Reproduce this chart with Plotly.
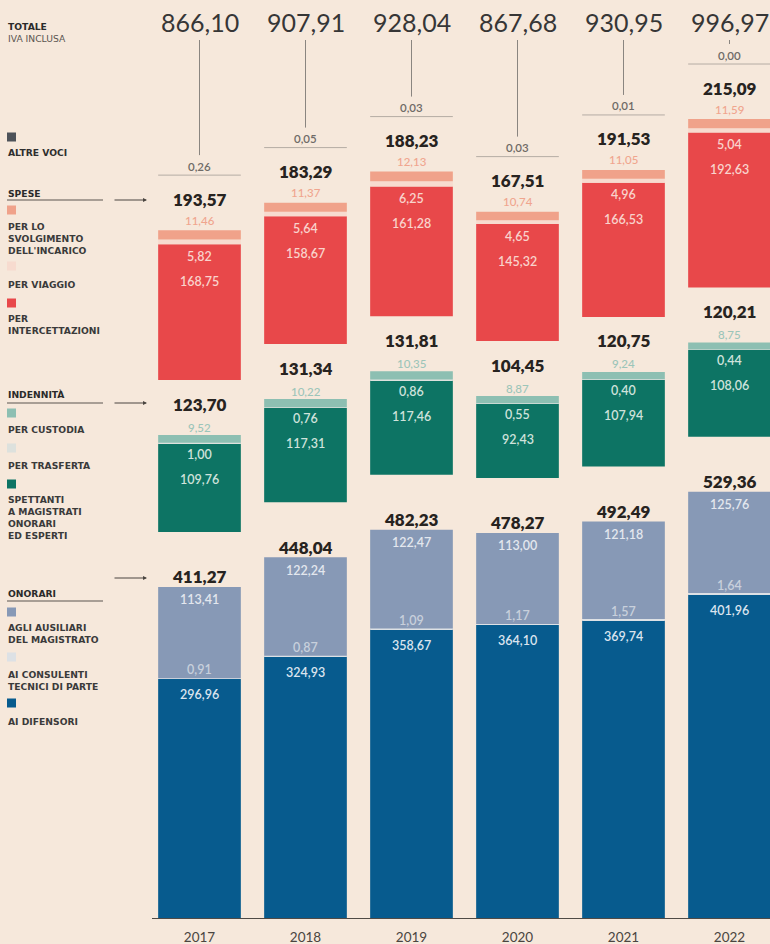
import plotly.graph_objects as go

# ---------------- data (milioni di euro) ----------------
years = ["2017", "2018", "2019", "2020", "2021", "2022"]
totale = [866.10, 907.91, 928.04, 867.68, 930.95, 996.97]
altre_voci = [0.26, 0.05, 0.03, 0.03, 0.01, 0.00]

spese_tot = [193.57, 183.29, 188.23, 167.51, 191.53, 215.09]
spese_svolg = [11.46, 11.37, 12.13, 10.74, 11.05, 11.59]
spese_viaggio = [5.82, 5.64, 6.25, 4.65, 4.96, 5.04]
spese_interc = [168.75, 158.67, 161.28, 145.32, 166.53, 192.63]

ind_tot = [123.70, 131.34, 131.81, 104.45, 120.75, 120.21]
ind_custodia = [9.52, 10.22, 10.35, 8.87, 9.24, 8.75]
ind_trasferta = [1.00, 0.76, 0.86, 0.55, 0.40, 0.44]
ind_spettanti = [109.76, 117.31, 117.46, 92.43, 107.94, 108.06]

on_tot = [411.27, 448.04, 482.23, 478.27, 492.49, 529.36]
on_ausiliari = [113.41, 122.24, 122.47, 113.00, 121.18, 125.76]
on_consulenti = [0.91, 0.87, 1.09, 1.17, 1.57, 1.64]
on_difensori = [296.96, 324.93, 358.67, 364.10, 369.74, 401.96]

# ---------------- geometry / style ----------------
W, H = 770, 944
PLOT_BOTTOM = 918           # px of the axis line
SCALE = 0.805               # px per unit
GAP = 55 / SCALE            # gap between groups, in data units
BARW = 0.78
X0_PX = 152
SPACING = 106.0
x_first = -(199.5 - X0_PX) / SPACING
x_last = x_first + (W - X0_PX) / SPACING
Y_MAX = PLOT_BOTTOM / SCALE

BG = "#f6e8db"
C_DIF, C_CONS, C_AUS = "#075b8e", "#dde1e5", "#8799b6"
C_SPET, C_TRAS, C_CUST = "#0d7464", "#dde1dd", "#8dbfb2"
C_INT, C_VIA, C_SVO = "#e8484a", "#f7dbcf", "#f0a28a"
C_ALT = "#4d5259"
NUM_FONT = "Lato"
LEG_FONT = "DejaVu Sans"

xs = list(range(len(years)))
fmt = lambda v: f"{v:.2f}".replace(".", ",")

# bases
on_top = [d + c + a for d, c, a in zip(on_difensori, on_consulenti, on_ausiliari)]
ind_base = [t + GAP for t in on_top]
ind_top = [b + s + t + c for b, s, t, c in zip(ind_base, ind_spettanti, ind_trasferta, ind_custodia)]
sp_base = [t + GAP for t in ind_top]
sp_top = [b + i + v + s for b, i, v, s in zip(sp_base, spese_interc, spese_viaggio, spese_svolg)]
alt_y = [t + GAP for t in sp_top]

fig = go.Figure()

def add_seg(vals, base, color, name):
    fig.add_trace(go.Bar(x=xs, y=vals, base=base, width=BARW, name=name,
                         marker=dict(color=color, line=dict(width=0)),
                         hoverinfo="skip", showlegend=False))

# onorari
add_seg(on_difensori, [0] * 6, C_DIF, "Ai difensori")
add_seg(on_consulenti, on_difensori, C_CONS, "Ai consulenti")
b3 = [a + b for a, b in zip(on_difensori, on_consulenti)]
add_seg(on_ausiliari, b3, C_AUS, "Agli ausiliari")
# indennità
add_seg(ind_spettanti, ind_base, C_SPET, "Spettanti")
ib2 = [a + b for a, b in zip(ind_base, ind_spettanti)]
add_seg(ind_trasferta, ib2, C_TRAS, "Per trasferta")
ib3 = [a + b for a, b in zip(ib2, ind_trasferta)]
add_seg(ind_custodia, ib3, C_CUST, "Per custodia")
# spese
add_seg(spese_interc, sp_base, C_INT, "Per intercettazioni")
sb2 = [a + b for a, b in zip(sp_base, spese_interc)]
add_seg(spese_viaggio, sb2, C_VIA, "Per viaggio")
sb3 = [a + b for a, b in zip(sb2, spese_viaggio)]
add_seg(spese_svolg, sb3, C_SVO, "Per lo svolgimento")

# altre voci: thin horizontal line + connector
lx, ly, cx, cy = [], [], [], []
conn_top = (PLOT_BOTTOM - 40) / SCALE
for i, (ay, av) in enumerate(zip(alt_y, altre_voci)):
    lx += [i - BARW / 2, i + BARW / 2, None]
    ly += [ay + av, ay + av, None]
    cx += [i, i, None]
    cy += [conn_top, ay + av + 20 / SCALE, None]
fig.add_trace(go.Scatter(x=lx, y=ly, mode="lines", line=dict(color="#b5aca4", width=1),
                         hoverinfo="skip", showlegend=False))
fig.add_trace(go.Scatter(x=cx, y=cy, mode="lines", line=dict(color="#8a8580", width=1),
                         hoverinfo="skip", showlegend=False))

ann = []

def lab(x, y, text, shift, color, size=12, weight=600, yref="y", family=NUM_FONT):
    ann.append(dict(x=x, y=y, xref="x", yref=yref, text=text, showarrow=False,
                    xanchor="center", yanchor="middle", yshift=shift,
                    font=dict(family=family, size=size, color=color, weight=weight)))

for i in xs:
    # totale
    lab(i, (PLOT_BOTTOM - 22) / PLOT_BOTTOM, fmt(totale[i]), 0, "#363636", size=25, weight=400, yref="paper")
    # altre voci
    lab(i, alt_y[i] + altre_voci[i], fmt(altre_voci[i]), 9, "#6f6b67", size=11.5, weight=600)
    # spese
    lab(i, sp_top[i], fmt(spese_tot[i]), 31, "#272320", size=17, weight=800)
    lab(i, sp_top[i], fmt(spese_svolg[i]), 10, "#f0a58e", size=11.5, weight=500)
    lab(i, sb2[i], fmt(spese_viaggio[i]), -12, "#f9d3cc", size=12.5, weight=600)
    lab(i, sb2[i], fmt(spese_interc[i]), -37, "#f9d3cc", size=12.5, weight=600)
    # indennità
    lab(i, ind_top[i], fmt(ind_tot[i]), 31, "#272320", size=17, weight=800)
    lab(i, ind_top[i], fmt(ind_custodia[i]), 8, "#9cc5b9", size=11.5, weight=500)
    lab(i, ib2[i], fmt(ind_trasferta[i]), -11, "#cfe2db", size=12.5, weight=600)
    lab(i, ib2[i], fmt(ind_spettanti[i]), -36, "#cfe2db", size=12.5, weight=600)
    # onorari
    lab(i, on_top[i], fmt(on_tot[i]), 10, "#272320", size=17, weight=800)
    lab(i, on_top[i], fmt(on_ausiliari[i]), -13, "#e3e7ee", size=12.5, weight=600)
    lab(i, on_difensori[i], fmt(on_consulenti[i]), 9, "#c8d0dc", size=12.5, weight=600)
    lab(i, on_difensori[i], fmt(on_difensori[i]), -16, "#dbe4ee", size=12.5, weight=600)

# ---------------- left legend ----------------
px = lambda p: p / W
py = lambda p: (PLOT_BOTTOM - p) / PLOT_BOTTOM
LEG_SIZE = 9.2
LINE_H = 1.3 * LEG_SIZE

def ltxt(lines, y_first, weight="bold", color="#333333"):
    n = len(lines)
    yc = y_first + (n - 1) * LINE_H / 2
    ann.append(dict(x=px(6), y=py(yc), xref="paper", yref="paper", text="<br>".join(lines),
                    showarrow=False, xanchor="left", yanchor="middle", align="left",
                    font=dict(family=LEG_FONT, size=LEG_SIZE, color=color, weight=weight)))

legend_blocks = [
    (["TOTALE"], 26, "bold", "#2a2a2a"), (["IVA INCLUSA"], 38, "normal", "#5a5550"),
    (["ALTRE VOCI"], 153, "bold", "#2e2e2e"),
    (["SPESE"], 193, "bold", "#2a2a2a"),
    (["PER LO", "SVOLGIMENTO", "DELL'INCARICO"], 227, "bold", "#3a3a3a"),
    (["PER VIAGGIO"], 284, "bold", "#3a3a3a"),
    (["PER", "INTERCETTAZIONI"], 319, "bold", "#3a3a3a"),
    (["INDENNITÀ"], 395, "bold", "#2a2a2a"),
    (["PER CUSTODIA"], 430, "bold", "#3a3a3a"),
    (["PER TRASFERTA"], 465, "bold", "#3a3a3a"),
    (["SPETTANTI", "A MAGISTRATI", "ONORARI", "ED ESPERTI"], 500, "bold", "#3a3a3a"),
    (["ONORARI"], 593, "bold", "#2a2a2a"),
    (["AGLI AUSILIARI", "DEL MAGISTRATO"], 628, "bold", "#3a3a3a"),
    (["AI CONSULENTI", "TECNICI DI PARTE"], 675, "bold", "#3a3a3a"),
    (["AI DIFENSORI"], 721, "bold", "#3a3a3a"),
]
for lines, y, w, c in legend_blocks:
    ltxt(lines, y, w, c)

shapes = []
squares = [(137, C_ALT), (210, C_SVO), (266, C_VIA), (303, C_INT),
           (413, C_CUST), (448, C_TRAS), (484, C_SPET),
           (612, C_AUS), (657, C_CONS), (703, C_DIF)]
for y, c in squares:
    shapes.append(dict(type="rect", xref="paper", yref="paper",
                       x0=px(7), x1=px(16), y0=py(y + 4.5), y1=py(y - 4.5),
                       fillcolor=c, line=dict(width=0)))
for y in (200, 403, 601):
    shapes.append(dict(type="line", xref="paper", yref="paper", x0=px(7), x1=px(103),
                       y0=py(y), y1=py(y), line=dict(color="#5a5550", width=1.2)))
for y in (200, 403, 578):
    ann.append(dict(x=px(147), y=py(y), xref="paper", yref="paper", text="", showarrow=True,
                    ax=-34, ay=0, axref="pixel", ayref="pixel", arrowhead=2, arrowsize=0.8,
                    arrowwidth=1, arrowcolor="#4a4540"))

fig.update_layout(
    width=W, height=H, barmode="overlay",
    paper_bgcolor=BG, plot_bgcolor=BG,
    margin=dict(l=0, r=0, t=0, b=H - PLOT_BOTTOM, pad=0),
    xaxis=dict(domain=[X0_PX / W, 1], range=[x_first, x_last], tickvals=xs, ticktext=years,
               showgrid=False, zeroline=False, showline=True, linecolor="#4f4a45", linewidth=1,
               ticks="", ticklabelstandoff=7,
               tickfont=dict(family="Lato", size=13.5, color="#4a4540")),
    yaxis=dict(range=[0, Y_MAX], visible=False, showgrid=False, zeroline=False),
    annotations=ann, shapes=shapes, showlegend=False,
)

fig.write_html("out.html")
